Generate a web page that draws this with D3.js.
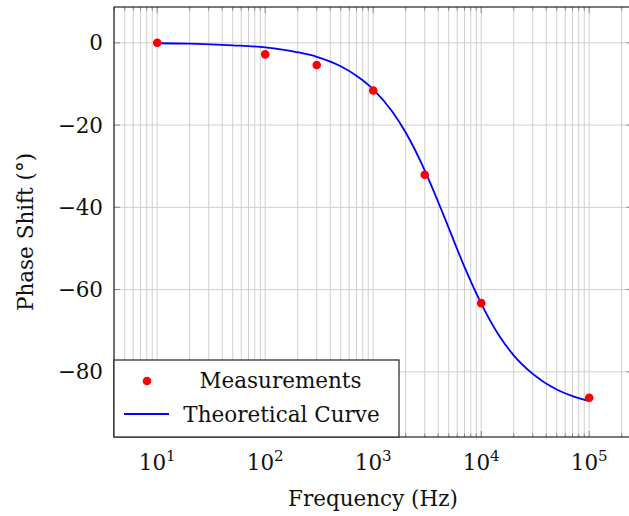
<!DOCTYPE html>
<html>
<head>
<meta charset="utf-8">
<script src="https://cdn.jsdelivr.net/npm/d3@7"></script>
<style>
  body { margin: 0; background: #fff; }
  svg { display: block; }
  text { font-family: "DejaVu Serif", serif; fill: #111; }
</style>
</head>
<body>
<main></main>
<script>
// measured points
const measFreq = [10, 100, 300, 1000, 3000, 10000, 100000];
const measPhase = [0, -2.8, -5.4, -11.6, -32.1, -63.3, -86.3];

// theoretical curve
const curveFreq = [10, 20, 50, 100, 200, 300, 500, 700, 1000, 1500, 2000, 3000, 4000, 5000,
    7000, 10000, 15000, 20000, 30000, 50000, 70000, 100000];
const curvePhase = [-0.1, -0.2, -0.6, -1.1, -2.3, -3.4, -5.7, -8.0, -11.3, -16.7, -21.8, -31.0,
    -38.7, -45.0, -54.5, -63.4, -71.6, -76.0, -80.5, -84.3, -85.9, -87.1];

const yTicks = [0, -20, -40, -60, -80];
const xTickPowers = [1, 2, 3, 4, 5];
const legendLabels = ['Measurements', 'Theoretical Curve'];

const padL = 114, padT = 7, plotW = 518.4, plotH = 430;
const fs = 21.5;

const svg = d3.select('main')
    .append('svg')
    .attr('width', 629)
    .attr('height', 516);

const xScale = d3.scaleLog()
    .domain([Math.pow(10, 0.6), Math.pow(10, 5.4)])
    .range([padL, padL + plotW]);

const yScale = d3.scaleLinear()
    .domain([-95.85, 8.71])
    .range([padT + plotH, padT]);

// minor + major vertical grid
const minorX = [];
for (let p = 0; p <= 5; p++) {
    for (let m = 1; m <= 9; m++) {
        const v = m * Math.pow(10, p);
        if (v >= xScale.domain()[0] && v <= xScale.domain()[1]) minorX.push(v);
    }
}

const grid = svg.append('g');
grid.selectAll('line.vx')
    .data(minorX)
    .enter()
    .append('line')
    .attr('x1', d => xScale(d))
    .attr('x2', d => xScale(d))
    .attr('y1', padT)
    .attr('y2', padT + plotH)
    .attr('stroke', '#cfcfcf')
    .attr('stroke-width', 1);

grid.selectAll('line.hy')
    .data(yTicks)
    .enter()
    .append('line')
    .attr('x1', padL)
    .attr('x2', padL + plotW)
    .attr('y1', d => yScale(d))
    .attr('y2', d => yScale(d))
    .attr('stroke', '#cfcfcf')
    .attr('stroke-width', 1);

// tick marks inside the frame
const ticks = svg.append('g').attr('stroke', '#888');
minorX.forEach((v) => {
    const isMajor = Math.abs(Math.log10(v) - Math.round(Math.log10(v))) < 1e-9;
    const len = isMajor ? 6 : 3.5;
    ticks.append('line').attr('x1', xScale(v)).attr('x2', xScale(v))
        .attr('y1', padT + plotH).attr('y2', padT + plotH - len);
    ticks.append('line').attr('x1', xScale(v)).attr('x2', xScale(v))
        .attr('y1', padT).attr('y2', padT + len);
});
yTicks.forEach((v) => {
    ticks.append('line').attr('x1', padL).attr('x2', padL + 6)
        .attr('y1', yScale(v)).attr('y2', yScale(v));
    ticks.append('line').attr('x1', padL + plotW).attr('x2', padL + plotW - 6)
        .attr('y1', yScale(v)).attr('y2', yScale(v));
});

// curve
const line = d3.line()
    .x((d, i) => xScale(curveFreq[i]))
    .y((d, i) => yScale(d))
    .curve(d3.curveMonotoneX);

svg.append('path')
    .datum(curvePhase)
    .attr('d', line)
    .attr('fill', 'none')
    .attr('stroke', '#0000ff')
    .attr('stroke-width', 1.8);

svg.selectAll('circle.m')
    .data(measPhase)
    .enter()
    .append('circle')
    .attr('cx', (d, i) => xScale(measFreq[i]))
    .attr('cy', d => yScale(d))
    .attr('r', 4.3)
    .attr('fill', '#ff0000');

// frame
svg.append('rect')
    .attr('x', padL)
    .attr('y', padT)
    .attr('width', plotW)
    .attr('height', plotH)
    .attr('fill', 'none')
    .attr('stroke', '#222')
    .attr('stroke-width', 1.2);

// y tick labels
svg.selectAll('text.yt')
    .data(yTicks)
    .enter()
    .append('text')
    .attr('x', padL - 11)
    .attr('y', d => yScale(d) + 7.5)
    .attr('text-anchor', 'end')
    .attr('font-size', fs)
    .text(d => d < 0 ? '\u2212' + Math.abs(d) : d);

// x tick labels 10^n
const xl = svg.selectAll('text.xt')
    .data(xTickPowers)
    .enter()
    .append('text')
    .attr('x', d => xScale(Math.pow(10, d)))
    .attr('y', 470)
    .attr('text-anchor', 'middle')
    .attr('font-size', fs);
xl.append('tspan').text('10');
xl.append('tspan').attr('dy', -9).attr('font-size', 15).text(d => d);

svg.append('text')
    .attr('x', 373)
    .attr('y', 506)
    .attr('text-anchor', 'middle')
    .attr('font-size', fs)
    .text('Frequency (Hz)');

svg.append('text')
    .attr('transform', 'translate(33, 232) rotate(-90)')
    .attr('text-anchor', 'middle')
    .attr('font-size', fs)
    .text('Phase Shift (\u00b0)');

// legend
const lg = svg.append('g');
lg.append('rect')
    .attr('x', padL)
    .attr('y', 360)
    .attr('width', 285)
    .attr('height', padT + plotH - 360)
    .attr('fill', '#fff')
    .attr('stroke', '#222')
    .attr('stroke-width', 1.2);
lg.append('circle')
    .attr('cx', 147)
    .attr('cy', 381)
    .attr('r', 4.3)
    .attr('fill', '#ff0000');
lg.append('line')
    .attr('x1', 124)
    .attr('x2', 169)
    .attr('y1', 414)
    .attr('y2', 414)
    .attr('stroke', '#0000ff')
    .attr('stroke-width', 1.8);
lg.append('text')
    .attr('x', 280.5)
    .attr('y', 387.5)
    .attr('text-anchor', 'middle')
    .attr('font-size', fs)
    .text(legendLabels[0]);
lg.append('text')
    .attr('x', 281.5)
    .attr('y', 421.5)
    .attr('text-anchor', 'middle')
    .attr('font-size', fs)
    .text(legendLabels[1]);
</script>
</body>
</html>
